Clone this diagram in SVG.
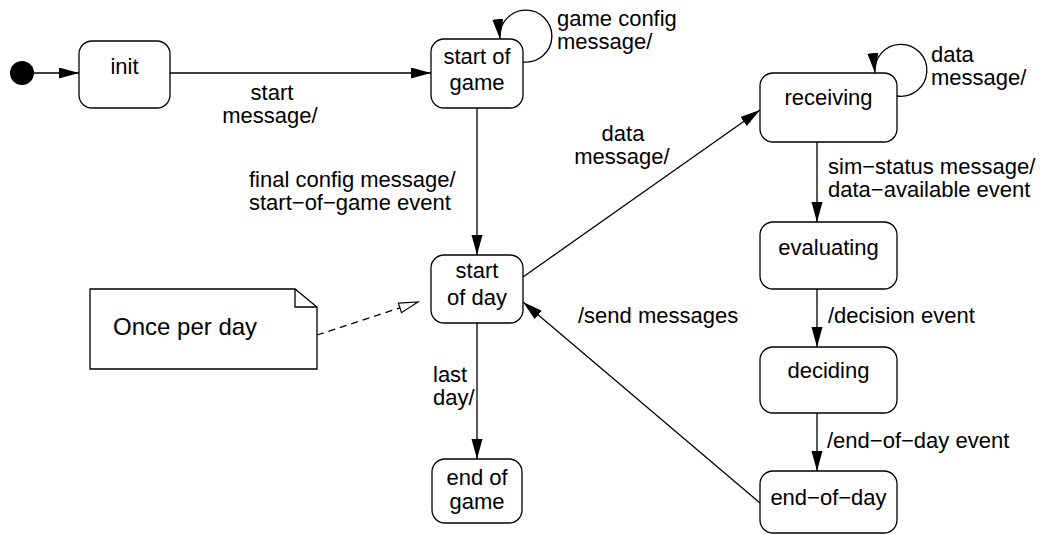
<svg xmlns="http://www.w3.org/2000/svg" width="1044" height="535" viewBox="0 0 1044 535">
<style>
.st{fill:#fff;stroke:#000;stroke-width:1.3}
.t{font-family:"Liberation Sans",Arial,sans-serif;font-size:22px;fill:#000}
.c{text-anchor:middle}
.ln{fill:none;stroke:#000;stroke-width:1.3}
</style>
<defs>
<marker id="ah" markerUnits="userSpaceOnUse" markerWidth="22" markerHeight="12" refX="20" refY="5.5" orient="auto">
<path d="M0,0 L20,5.5 L0,11 z" fill="#000"/>
</marker>
<marker id="oh" markerUnits="userSpaceOnUse" markerWidth="22" markerHeight="14" refX="20" refY="6" orient="auto">
<path d="M1,1 L20,6 L1,11 z" fill="#fff" stroke="#000" stroke-width="1.2"/>
</marker>
</defs>
<rect width="1044" height="535" fill="#fff"/>
<g id="connectors">
<path class="ln" d="M34,73 L79,73" marker-end="url(#ah)"/>
<path class="ln" d="M170,73 L431,73" marker-end="url(#ah)"/>
<path class="ln" d="M523,62 A26,26 0 1 0 500,39" marker-end="url(#ah)"/>
<path class="ln" d="M477,108 L477,255" marker-end="url(#ah)"/>
<path class="ln" d="M523,277 L760,110" marker-end="url(#ah)"/>
<path class="ln" d="M897,96 A26,26 0 1 0 875,73" marker-end="url(#ah)"/>
<path class="ln" d="M817,142 L817,222" marker-end="url(#ah)"/>
<path class="ln" d="M817,289 L817,347" marker-end="url(#ah)"/>
<path class="ln" d="M817,413 L817,471" marker-end="url(#ah)"/>
<path class="ln" d="M760,503 L523,302" marker-end="url(#ah)"/>
<path class="ln" d="M477,323 L477,459" marker-end="url(#ah)"/>
<path class="ln" d="M317,335 L418,302" stroke-dasharray="7,5" marker-end="url(#oh)"/>
<text class="t c" x="272" y="100">start</text>
<text class="t c" x="270" y="123">message/</text>
<text class="t" x="557" y="26">game config</text>
<text class="t" x="557" y="49">message/</text>
<text class="t" x="249" y="187">final config message/</text>
<text class="t" x="249" y="210">start−of−game event</text>
<text class="t c" x="623" y="141">data</text>
<text class="t c" x="622" y="164">message/</text>
<text class="t" x="931" y="62">data</text>
<text class="t" x="931" y="85">message/</text>
<text class="t" x="828" y="174">sim−status message/</text>
<text class="t" x="828" y="197">data−available event</text>
<text class="t" x="828" y="323">/decision event</text>
<text class="t" x="827" y="448">/end−of−day event</text>
<text class="t" x="578" y="323">/send messages</text>
<text class="t" x="433" y="382">last</text>
<text class="t" x="433" y="405">day/</text>
</g>
<g id="initial"><circle cx="22" cy="73" r="12" fill="#000"/></g>
<g id="init"><rect class="st" x="79" y="41" width="91" height="67" rx="13"/><text class="t c" x="124.5" y="74">init</text></g>
<g id="start-of-game"><rect class="st" x="431" y="39" width="92" height="69" rx="13"/><text class="t c" x="477" y="64">start of</text><text class="t c" x="477" y="90">game</text></g>
<g id="start-of-day"><rect class="st" x="431" y="255" width="92" height="68" rx="13"/><text class="t c" x="477" y="278">start</text><text class="t c" x="477" y="305">of day</text></g>
<g id="end-of-game"><rect class="st" x="432" y="459" width="90" height="64" rx="13"/><text class="t c" x="477" y="485">end of</text><text class="t c" x="477" y="509">game</text></g>
<g id="receiving"><rect class="st" x="760" y="73" width="137" height="69" rx="13"/><text class="t c" x="828.5" y="105">receiving</text></g>
<g id="evaluating"><rect class="st" x="760" y="222" width="137" height="67" rx="13"/><text class="t c" x="828.5" y="255">evaluating</text></g>
<g id="deciding"><rect class="st" x="760" y="347" width="137" height="66" rx="13"/><text class="t c" x="828.5" y="378">deciding</text></g>
<g id="end-of-day"><rect class="st" x="760" y="471" width="137" height="62" rx="13"/><text class="t c" x="828.5" y="505">end−of−day</text></g>
<g id="note">
<path class="st" d="M90,289 L295,289 L317,307 L317,369 L90,369 Z"/>
<path class="ln" d="M295,289 L295,307 L317,307"/>
<text class="t" x="113" y="335" style="font-size:24px">Once per day</text>
</g>
</svg>
